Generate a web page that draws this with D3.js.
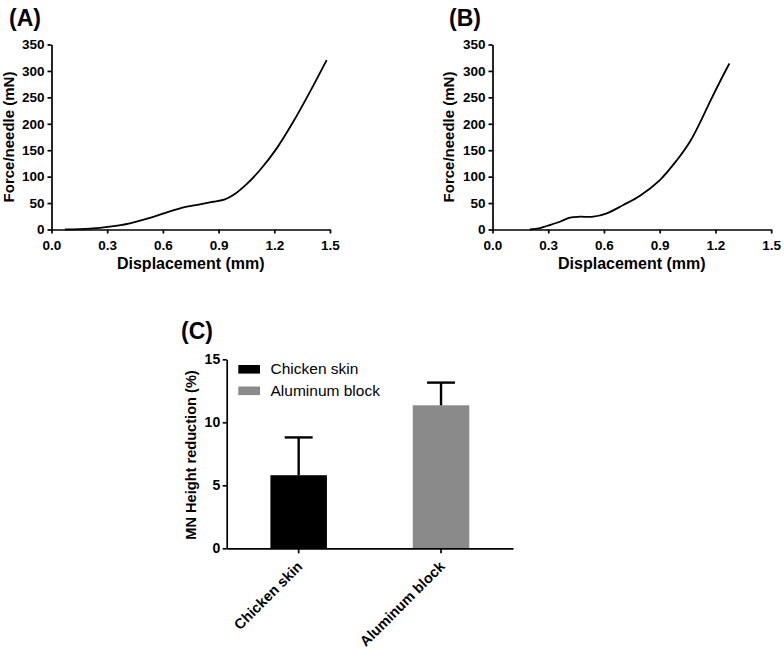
<!DOCTYPE html>
<html>
<head>
<meta charset="utf-8">
<script src="https://cdn.jsdelivr.net/npm/d3@7"></script>
<style>
  html, body { margin: 0; padding: 0; background: #fff; }
  svg { display: block; }
  text { font-family: "Liberation Sans", Arial, sans-serif; }
</style>
</head>
<body>
<svg id="chart" width="784" height="649"></svg>
<script>
// ---------- data ----------
const curveA_disp  = [0.072, 0.207, 0.314, 0.422, 0.53, 0.60, 0.692, 0.799, 0.871, 0.934, 0.979, 1.051, 1.123, 1.213, 1.302, 1.392, 1.482];
const curveA_force = [0, 1.5, 5.3, 11.7, 22, 30.0, 40.1, 47.6, 52.5, 57.1, 65.2, 86, 112.5, 153.5, 203.7, 260.4, 320.4];

const curveB_disp  = [0.201, 0.25, 0.291, 0.363, 0.417, 0.47, 0.542, 0.615, 0.704, 0.794, 0.901, 0.992, 1.064, 1.118, 1.172, 1.226, 1.275];
const curveB_force = [0, 2.0, 6.6, 14.7, 22.3, 24.2, 24.2, 30.6, 46.3, 64, 93.6, 131, 167, 203, 243, 281, 314];

const xTicks = [0.0, 0.3, 0.6, 0.9, 1.2, 1.5];
const yTicksForce = [0, 50, 100, 150, 200, 250, 300, 350];

const categories = ["Chicken skin", "Aluminum block"];
const meanReduction = [5.8, 11.35];
const errReduction = [3.0, 1.8];
const barColors = ["#000000", "#8a8a8a"];
const yTicksC = [0, 5, 10, 15];

// ---------- drawing ----------
const svg = d3.select("#chart");
svg.append("rect").attr("width", 784).attr("height", 649).attr("fill", "#fff");

function styleAxis(g, fs) {
  g.selectAll("path.domain").attr("stroke", "#000").attr("stroke-width", 1.7);
  g.selectAll(".tick line").attr("stroke", "#000").attr("stroke-width", 1.7);
  g.selectAll(".tick text").attr("fill", "#000").attr("font-size", fs + "px")
    .attr("font-weight", "bold").attr("font-family", '"Liberation Sans", Arial, sans-serif');
}

function linePanel(xr, disp, force, label, labelX, ylabX) {
  const x = d3.scaleLinear().domain([0, 1.5]).range(xr);
  const y = d3.scaleLinear().domain([0, 350]).range([229.5, 44.5]);

  const gx = svg.append("g").attr("transform", "translate(0,229.5)")
    .call(d3.axisBottom(x).tickValues(xTicks).tickFormat(d3.format(".1f"))
      .tickSize(4).tickSizeOuter(0).tickPadding(6.5));
  styleAxis(gx, 13.5);

  const gy = svg.append("g").attr("transform", `translate(${xr[0]},0)`)
    .call(d3.axisLeft(y).tickValues(yTicksForce).tickSize(4).tickSizeOuter(0).tickPadding(3));
  styleAxis(gy, 13.5);

  const pts = disp.map((d, i) => [d, force[i]]);
  svg.append("path").datum(pts)
    .attr("fill", "none").attr("stroke", "#000").attr("stroke-width", 1.8)
    .attr("d", d3.line().x(d => x(d[0])).y(d => y(d[1])).curve(d3.curveCatmullRom.alpha(0.5)));

  svg.append("text").attr("x", (xr[0] + xr[1]) / 2).attr("y", 268.5)
    .attr("text-anchor", "middle").attr("font-size", "16px").attr("font-weight", "bold")
    .text("Displacement (mm)");
  svg.append("text").attr("transform", `translate(${ylabX},137) rotate(-90)`)
    .attr("text-anchor", "middle").attr("font-size", "15px").attr("font-weight", "bold")
    .text("Force/needle (mN)");
  svg.append("text").attr("x", labelX).attr("y", 26)
    .attr("font-size", "23px").attr("font-weight", "bold").text(label);
}

linePanel([51.5, 330], curveA_disp, curveA_force, "(A)", 9, 13.5);
linePanel([492.5, 771.2], curveB_disp, curveB_force, "(B)", 449, 454);

// ---------- panel C ----------
const xC = d3.scaleBand().domain(categories).range([226.7, 513]).paddingInner(0.603).paddingOuter(0.307);
const yC = d3.scaleLinear().domain([0, 15]).range([548.3, 359.3]);

// bars
svg.append("g").selectAll("rect").data(categories).join("rect")
  .attr("x", d => xC(d)).attr("width", xC.bandwidth())
  .attr("y", (d, i) => yC(meanReduction[i]))
  .attr("height", (d, i) => yC(0) - yC(meanReduction[i]))
  .attr("fill", (d, i) => barColors[i]);

// error bars
const capW = 28;
const eb = svg.append("g").attr("stroke", "#000").attr("stroke-width", 2.4);
categories.forEach((c, i) => {
  const cx = xC(c) + xC.bandwidth() / 2;
  eb.append("line").attr("x1", cx).attr("x2", cx)
    .attr("y1", yC(meanReduction[i])).attr("y2", yC(meanReduction[i] + errReduction[i]));
  eb.append("line").attr("x1", cx - capW / 2).attr("x2", cx + capW / 2)
    .attr("y1", yC(meanReduction[i] + errReduction[i])).attr("y2", yC(meanReduction[i] + errReduction[i]));
});

const gxC = svg.append("g").attr("transform", "translate(0,548.3)")
  .call(d3.axisBottom(xC).tickSize(5).tickSizeOuter(0).tickPadding(4));
styleAxis(gxC, 14.5);
gxC.selectAll(".tick text")
  .attr("text-anchor", "end").attr("x", 0).attr("y", 0).attr("dy", "0.35em")
  .attr("transform", "translate(1,15.5) rotate(-45)");

const gyC = svg.append("g").attr("transform", "translate(226.7,0)")
  .call(d3.axisLeft(yC).tickValues(yTicksC).tickSize(4).tickSizeOuter(0).tickPadding(2.5));
styleAxis(gyC, 14);

svg.append("text").attr("transform", "translate(196,455) rotate(-90)")
  .attr("text-anchor", "middle").attr("font-size", "14.6px").attr("font-weight", "bold")
  .text("MN Height reduction (%)");

svg.append("text").attr("x", 181).attr("y", 339)
  .attr("font-size", "23px").attr("font-weight", "bold").text("(C)");

// legend
const leg = svg.append("g");
categories.forEach((c, i) => {
  const yy = 365 + i * 21.5;
  leg.append("rect").attr("x", 238.3).attr("y", yy).attr("width", 21.7).attr("height", 8.6)
    .attr("fill", barColors[i]);
  leg.append("text").attr("x", 270.5).attr("y", yy + 9.3)
    .attr("font-size", "15.5px").attr("fill", "#000").text(c);
});
</script>
</body>
</html>
